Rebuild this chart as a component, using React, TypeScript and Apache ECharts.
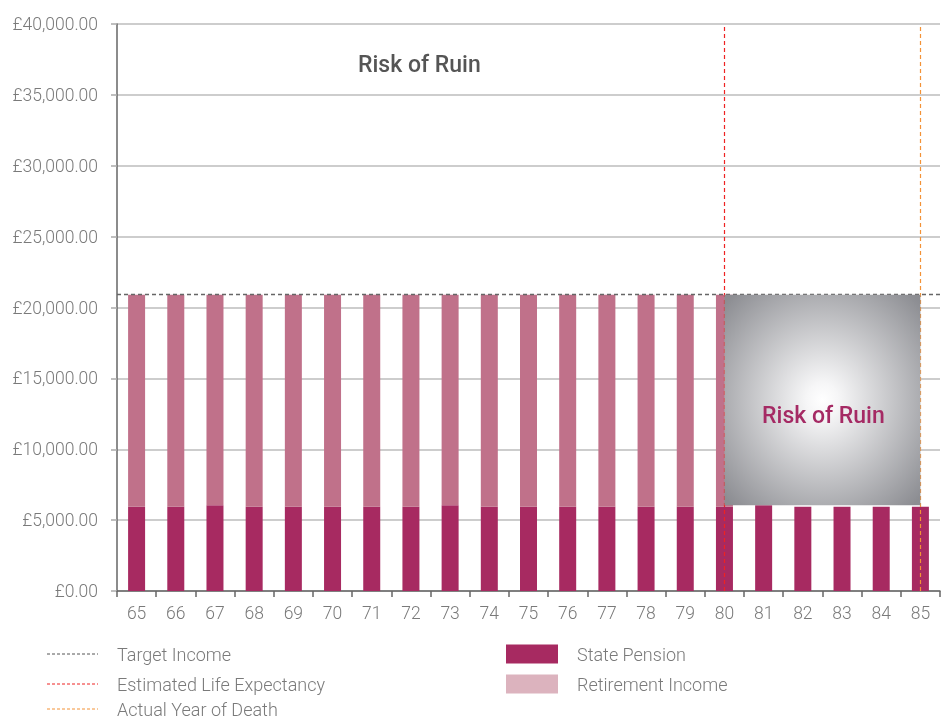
import React, { useEffect, useRef } from "react";
import * as echarts from "echarts";

const ages = ["65","66","67","68","69","70","71","72","73","74","75","76","77","78","79","80","81","82","83","84","85"];
const statePension = [5950,5950,6050,5950,5950,5950,5950,5950,6050,5950,5950,5950,5950,5950,5950,5950,6050,5950,5950,5950,5950];
const incomeTop = [20900,20900,20900,20900,20900,20900,20900,20900,20900,20900,20900,20900,20900,20900,20900,20900,null,null,null,null,null];
const targetIncome = 20900;
const lifeExpectancyAge = "80";
const deathAge = "85";
const ruinFloor = 6050;
const yTicks = { min: 0, max: 40000, interval: 5000 };

const FONT = "Roboto";
const GREY_TEXT = "#7a7a7a";
const PENSION = "#a72a61";
const RETIRE = "#c0718a";
const RETIRE_LEGEND = "#dcb3be";

export default function App() {
  const ref = useRef<HTMLDivElement>(null);
  useEffect(() => {
    const chart = echarts.init(ref.current!, null, { renderer: "svg" });
    const retirementIncome = incomeTop.map((t, i) => (t == null ? null : t - statePension[i]));
    const fmt = (v: number) =>
      "£" + v.toLocaleString("en-GB", { minimumFractionDigits: 2, maximumFractionDigits: 2 });

    const legendY = [654, 684, 709];
    const lineLegend = [
      { name: "Target Income", color: "#555" },
      { name: "Estimated Life Expectancy", color: "#ee2222" },
      { name: "Actual Year of Death", color: "#f39236" },
    ];
    const boxLegend = [
      { name: "State Pension", color: PENSION },
      { name: "Retirement Income", color: RETIRE_LEGEND },
    ];
    const graphics: any[] = [
      {
        type: "text",
        left: 358,
        top: 53,
        style: { text: "Risk of Ruin", fontFamily: FONT, fontSize: 23, fontWeight: 500, fill: "#555" },
      },
    ];
    lineLegend.forEach((l, i) => {
      graphics.push({
        type: "line",
        shape: { x1: 47, y1: legendY[i], x2: 98, y2: legendY[i] },
        style: { stroke: l.color, lineWidth: 1, lineDash: [3, 2] },
      });
      graphics.push({
        type: "text",
        x: 117,
        y: legendY[i],
        style: { text: l.name, fontFamily: FONT, fontSize: 18, fontWeight: 300, fill: GREY_TEXT, verticalAlign: "middle" },
      });
    });
    boxLegend.forEach((l, i) => {
      graphics.push({
        type: "rect",
        shape: { x: 506, y: legendY[i] - 9.5, width: 52, height: 19 },
        style: { fill: l.color },
      });
      graphics.push({
        type: "text",
        x: 577,
        y: legendY[i],
        style: { text: l.name, fontFamily: FONT, fontSize: 18, fontWeight: 300, fill: GREY_TEXT, verticalAlign: "middle" },
      });
    });

    const ruinData = [[ages.indexOf(lifeExpectancyAge), targetIncome, ages.indexOf(deathAge), ruinFloor]];

    chart.setOption({
      animation: false,
      grid: { left: 117, right: 9, top: 24, bottom: 129, containLabel: false },
      xAxis: {
        type: "category",
        data: ages,
        boundaryGap: true,
        axisLine: { lineStyle: { color: "#666", width: 1.5 } },
        axisTick: { show: true, length: 6, lineStyle: { color: "#666", width: 1.5 } },
        axisLabel: { color: GREY_TEXT, fontFamily: FONT, fontSize: 17.5, fontWeight: 300, margin: 13 },
      },
      yAxis: {
        type: "value",
        min: yTicks.min,
        max: yTicks.max,
        interval: yTicks.interval,
        axisLine: { show: true, lineStyle: { color: "#666", width: 1.5 } },
        axisTick: { show: true, length: 6, lineStyle: { color: "#aaa", width: 1.5 } },
        splitLine: { lineStyle: { color: "#bdbdbd", width: 1.5 } },
        axisLabel: { color: GREY_TEXT, fontFamily: FONT, fontSize: 17.5, fontWeight: 300, margin: 19, formatter: fmt },
      },
      series: [
        {
          name: "State Pension",
          type: "bar",
          stack: "income",
          barWidth: 17,
          data: statePension,
          itemStyle: { color: PENSION },
        },
        {
          name: "Retirement Income",
          type: "bar",
          stack: "income",
          barWidth: 17,
          data: retirementIncome,
          itemStyle: { color: RETIRE },
        },
        {
          name: "Risk of Ruin",
          type: "custom",
          z: 5,
          silent: true,
          data: ruinData,
          renderItem: (_params: any, api: any) => {
            const p1 = api.coord([api.value(0), api.value(1)]);
            const p2 = api.coord([api.value(2), api.value(3)]);
            const x = p1[0];
            const y = p1[1];
            const w = p2[0] - p1[0];
            const h = p2[1] - p1[1];
            return {
              type: "group",
              children: [
                {
                  type: "rect",
                  shape: { x, y, width: w, height: h },
                  style: {
                    fill: new echarts.graphic.RadialGradient(0.5, 0.5, 0.68, [
                      { offset: 0, color: "#ffffff" },
                      { offset: 0.12, color: "#f6f6f7" },
                      { offset: 1, color: "#8c8d92" },
                    ]),
                  },
                },
                {
                  type: "text",
                  x: x + w / 2 + 1,
                  y: y + h / 2 + 16,
                  style: {
                    text: "Risk of Ruin",
                    fill: "#a52a64",
                    fontFamily: FONT,
                    fontSize: 23,
                    fontWeight: 500,
                    align: "center",
                    verticalAlign: "middle",
                  },
                },
              ],
            };
          },
        },
        {
          name: "lines",
          type: "line",
          data: [],
          z: 10,
          markLine: {
            silent: true,
            symbol: "none",
            label: { show: false },
            data: [
              { yAxis: targetIncome, lineStyle: { color: "#666", type: [4, 3], width: 1.3 } },
              { xAxis: lifeExpectancyAge, lineStyle: { color: "#ee2222", type: [4, 3], width: 1.2 } },
              { xAxis: deathAge, lineStyle: { color: "#f39236", type: [4, 3], width: 1.2 } },
            ],
          },
        },
      ],
      graphic: graphics,
    });
    return () => chart.dispose();
  }, []);
  return <div ref={ref} style={{ position: "fixed", left: 0, top: 0, width: 949, height: 720 }} />;
}
